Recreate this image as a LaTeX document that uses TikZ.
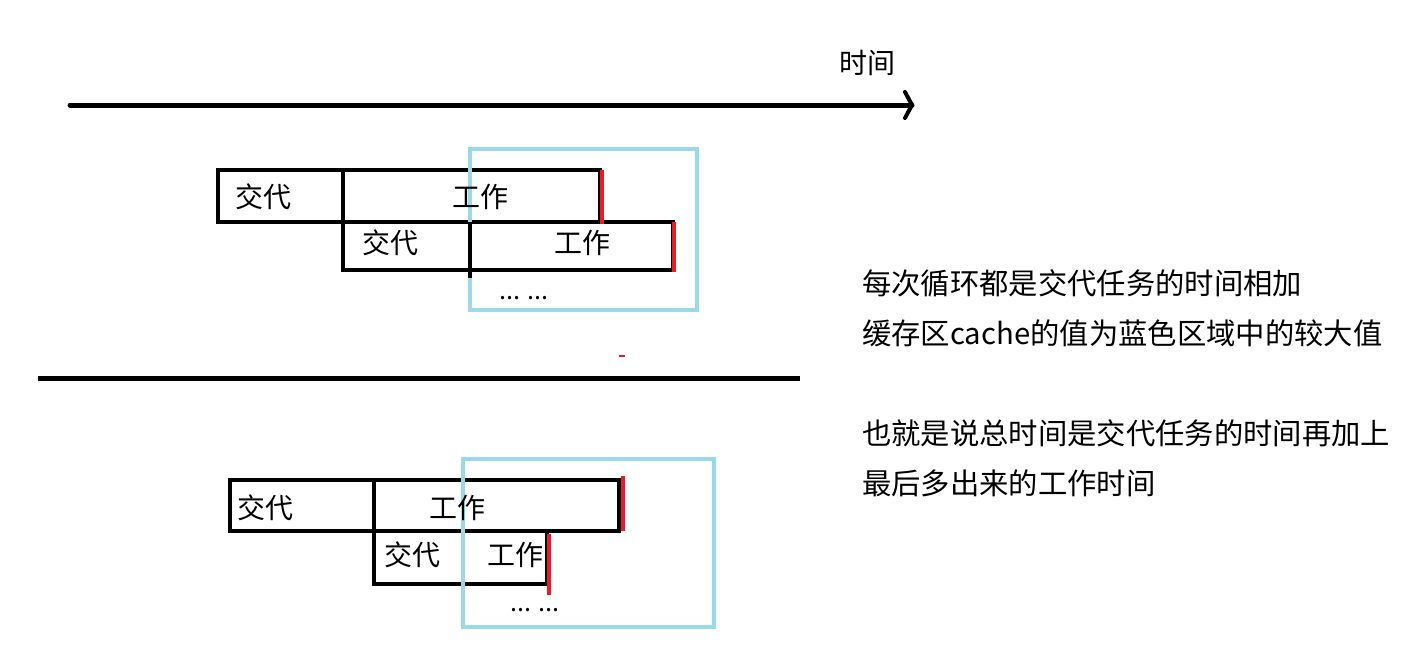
\documentclass[tikz,border=0pt]{standalone}
\usepackage{fontspec}
\setmainfont{Noto Sans CJK SC}
\usetikzlibrary{fit}
\definecolor{cblue}{HTML}{99D9EA}
\definecolor{cred}{HTML}{ED1C24}
\begin{document}
\begin{tikzpicture}[x=0.75pt,y=-0.75pt,
  blk/.style={draw=black, line width=3.3pt, inner sep=0pt, rectangle},
  bluebox/.style={draw=cblue, line width=3pt, inner sep=0pt, rectangle},
  redbar/.style={draw=cred, line width=3pt},
  lbl/.style={font=\fontsize{21}{24}\selectfont, inner sep=0pt},
  note/.style={font=\fontsize{22}{26}\selectfont, inner sep=0pt, anchor=west},
  dots/.style={font=\fontsize{19}{24}\selectfont, inner sep=0pt}]
\useasboundingbox (0,0) rectangle (1405,664);
\fill[white] (0,0) rectangle (1405,664);

% time axis
\coordinate (axS) at (70,105);
\coordinate (axE) at (912,105);
\draw[line width=3.75pt, line cap=round] (axS) -- (axE);
\draw[line width=3pt, line cap=round, line join=round] (905,92) -- (axE) -- (905,118);
\node[lbl] (timelbl) at (867,63) {时间};

% ---------- top diagram ----------
\node[blk, fit={(218,170) (343,222)}] (t1a) {};
\node[blk, fit={(343,170) (600,222)}] (t1b) {};
\node[blk, fit={(343,222) (470,270)}] (t2a) {};
\node[blk, fit={(470,222) (673,270)}] (t2b) {};
\node[bluebox, fit={(470,149) (697,310)}] (tblue) {};
\draw[line width=3.3pt] (470,222) -- (470,278);
\draw[redbar] (602,170) -- (602,224);
\draw[redbar] (674,222) -- (674,272);
\node[lbl] (t1aT) at (263,197) {交代};
\node[lbl] (t1bT) at (480,197) {工作};
\node[lbl] (t2aT) at (390,243) {交代};
\node[lbl] (t2bT) at (582,243) {工作};
\node[dots] (tdots) at (524,298) {... ...};
\draw[cred, line width=1.5pt] (619,356) -- (625,356);

% separator
\draw[line width=3.75pt] (38,378) -- (800,378);

% ---------- bottom diagram ----------
\node[blk, fit={(230,480) (374,531)}] (b1a) {};
\node[blk, fit={(374,480) (619,531)}] (b1b) {};
\node[blk, fit={(374,531) (547,584)}] (b2a) {};
\node[bluebox, fit={(463,459) (714,627)}] (bblue) {};
\draw[redbar] (623,476) -- (623,531);
\draw[redbar] (549,534) -- (549,595);
\node[lbl] (b1aT) at (265,508) {交代};
\node[lbl] (b1bT) at (457,508) {工作};
\node[lbl] (b2aT) at (412,555) {交代};
\node[lbl] (b2bT) at (515,555) {工作};
\node[dots] (bdots) at (535,610) {... ...};

% notes
\node[note] (n1) at (862,283) {每次循环都是交代任务的时间相加};
\node[note] (n2) at (862,333) {缓存区cache的值为蓝色区域中的较大值};
\node[note] (n3) at (862,433) {也就是说总时间是交代任务的时间再加上};
\node[note] (n4) at (862,483) {最后多出来的工作时间};
\end{tikzpicture}
\end{document}
